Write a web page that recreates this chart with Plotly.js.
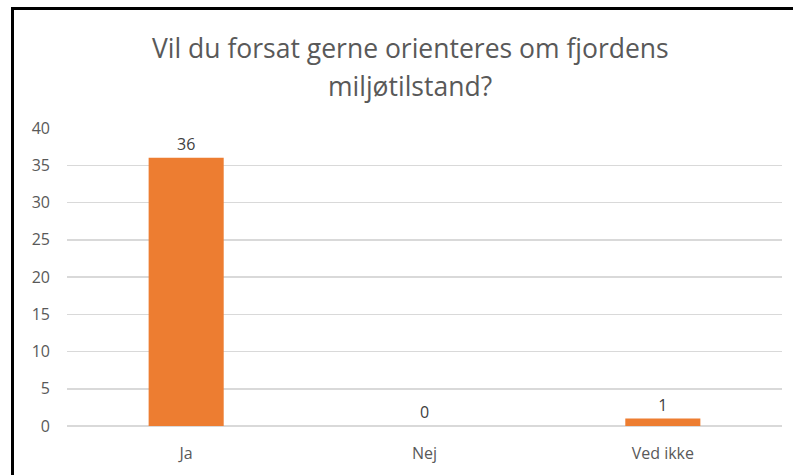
<!DOCTYPE html>
<html>
<head>
<meta charset="utf-8">
<script src="https://cdn.plot.ly/plotly-3.0.1.min.js"></script>
<style>html,body{margin:0;padding:0;background:#fff;}#chart{width:793px;height:475px;}</style>
</head>
<body>
<div id="chart"></div>
<script>
const categories = ["Ja", "Nej", "Ved ikke"];
const values = [36, 0, 1];
const yTicks = [0, 5, 10, 15, 20, 25, 30, 35, 40];
const titleLines = ["Vil du forsat gerne orienteres om fjordens", "miljøtilstand?"];

const font = "'Open Sans', sans-serif";
const trace = {
  type: "bar",
  x: categories,
  y: values,
  marker: {color: "#ED7D31"},
  text: values.map(String),
  textposition: "outside",
  cliponaxis: false,
  textfont: {family: font, size: 16, color: "#404040"},
  hoverinfo: "x+y"
};
const L = 67, R = 11, T = 128, B = 49, W = 793, H = 475;
const pw = W - L - R, ph = H - T - B;
const px2x = p => (p - L) / pw;
const px2y = p => (H - B - p) / ph;
const titleY = [48, 86];
const layout = {
  width: W, height: H,
  margin: {l: L, r: R, t: T, b: B},
  paper_bgcolor: "#fff", plot_bgcolor: "#fff",
  bargap: 0.685,
  showlegend: false,
  xaxis: {
    type: "category",
    showgrid: false, showline: false, zeroline: false,
    ticks: "", ticklabelstandoff: 16,
    tickfont: {family: font, size: 16, color: "#595959"}
  },
  yaxis: {
    range: [0, 40], tickvals: yTicks, ticktext: yTicks.map(String),
    showgrid: true, gridcolor: "#D9D9D9", gridwidth: 1.5,
    zeroline: true, zerolinecolor: "#D9D9D9", zerolinewidth: 1.5,
    showline: false, ticks: "", ticklabelstandoff: 16,
    tickfont: {family: font, size: 16, color: "#595959"}
  },
  annotations: titleLines.map((t, i) => ({
    text: t, showarrow: false,
    xref: "paper", yref: "paper",
    x: px2x(410), y: px2y(titleY[i]),
    xanchor: "center", yanchor: "middle",
    font: {family: font, size: 26.5, color: "#595959"}
  })),
  shapes: [
    {type: "line", xref: "paper", yref: "paper",
     x0: px2x(12.5), x1: px2x(12.5),
     y0: px2y(H + 5), y1: px2y(8.5),
     line: {color: "#000", width: 3}},
    {type: "line", xref: "paper", yref: "paper",
     x0: px2x(11), x1: px2x(W + 5),
     y0: px2y(8.5), y1: px2y(8.5),
     line: {color: "#000", width: 3}}
  ]
};
Plotly.newPlot("chart", [trace], layout, {displayModeBar: false, staticPlot: true});
</script>
</body>
</html>
